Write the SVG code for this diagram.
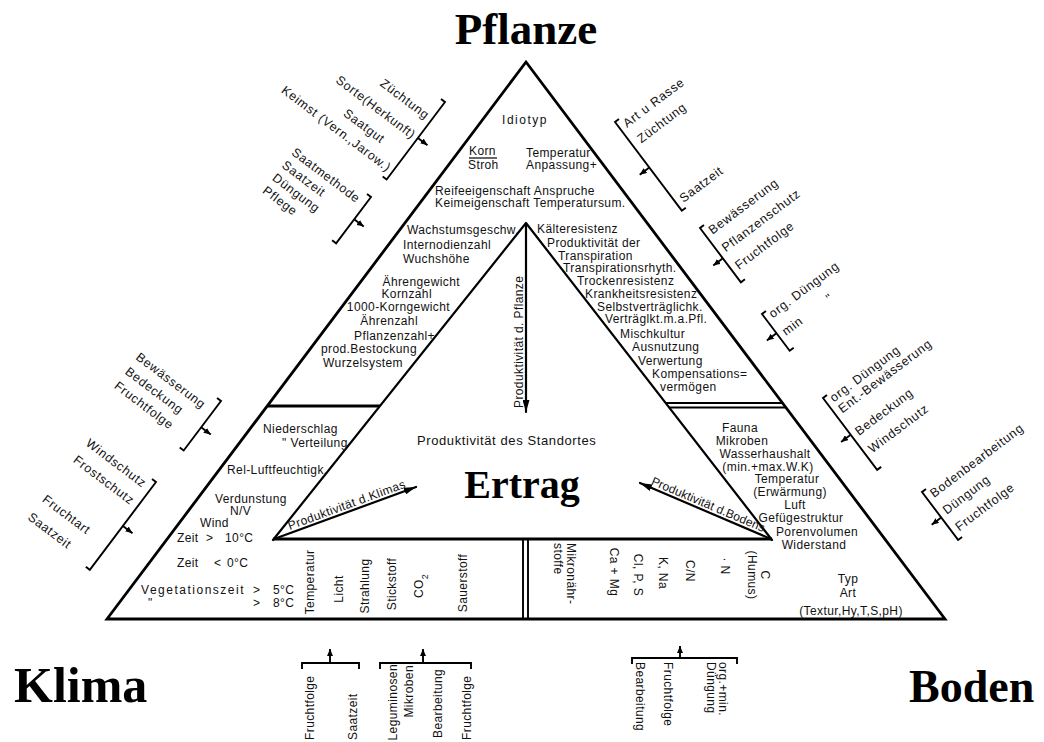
<svg xmlns="http://www.w3.org/2000/svg" width="1044" height="742" viewBox="0 0 1044 742">
<defs>
<style>
.ln{stroke:#000;stroke-width:2.2;fill:none;stroke-linecap:round;stroke-linejoin:round}
.th{stroke:#000;stroke-width:2.8;fill:none;stroke-linejoin:miter}
.br{stroke:#000;stroke-width:1.9;fill:none}
.t{font-family:"Liberation Sans",Arial,sans-serif;font-size:12px;letter-spacing:0.4px;fill:#111}
.r{font-family:"Liberation Sans",Arial,sans-serif;font-size:12.5px;letter-spacing:0.7px;fill:#111}
.big{font-family:"Liberation Serif","Times New Roman",serif;font-weight:bold;fill:#000}
.m{text-anchor:middle}
.e{text-anchor:end}
</style>
<marker id="ah" viewBox="0 0 12 7" refX="12" refY="3.5" markerWidth="12" markerHeight="7" markerUnits="userSpaceOnUse" orient="auto"><path d="M0,0 L12,3.5 L0,7 z" fill="#000"/></marker>
<marker id="sa" viewBox="0 0 7 6" refX="7" refY="3" markerWidth="7" markerHeight="6" markerUnits="userSpaceOnUse" orient="auto"><path d="M0,0 L7,3 L0,6 z" fill="#000"/></marker>
</defs>
<rect width="1044" height="742" fill="#fff"/>

<g id="connectors">
<path class="th" d="M526,62 L945,619 L107,619 Z"/>
<path class="ln" d="M273,540 L526,223 L772,540"/>
<line class="th" x1="273" y1="539" x2="772" y2="539"/>
<line class="th" x1="268" y1="406" x2="380" y2="406"/>
<line class="br" x1="666" y1="403" x2="782" y2="403"/>
<line class="br" x1="669" y1="407.5" x2="786" y2="407.5"/>
<line class="br" x1="523" y1="539" x2="523" y2="619"/>
<line class="br" x1="528" y1="539" x2="528" y2="619"/>
<line class="ln" x1="526" y1="225" x2="526" y2="412" marker-end="url(#ah)"/>
<line class="ln" x1="274" y1="539" x2="416" y2="487" marker-end="url(#ah)"/>
<line class="ln" x1="771" y1="539" x2="640" y2="483" marker-end="url(#ah)"/>
</g>

<g id="titles">
<text class="big m" x="526" y="44" font-size="45">Pflanze</text>
<text class="big" x="14" y="702" font-size="50">Klima</text>
<text class="big" x="909" y="702" font-size="46">Boden</text>
<text class="big m" x="522" y="498" font-size="40">Ertrag</text>
</g>

<g id="pflanze-top">
<text class="t m" x="525" y="124" style="letter-spacing:1.5px">Idiotyp</text>
<text class="t" x="469" y="155">Korn</text>
<line x1="469" y1="158" x2="497" y2="158" stroke="#000" stroke-width="1.2"/>
<text class="t" x="468" y="169">Stroh</text>
<text class="t" x="526" y="157">Temperatur</text>
<text class="t" x="526" y="169">Anpassung+</text>
<text class="t" x="435" y="195">Reifeeigenschaft Anspruche</text>
<text class="t" x="435" y="207">Keimeigenschaft Temperatursum.</text>
</g>

<g id="pflanze-left">
<text class="t" x="407" y="234">Wachstumsgeschw.</text>
<text class="t" x="403" y="249">Internodienzahl</text>
<text class="t" x="403" y="263">Wuchshöhe</text>
<text class="t e" x="460" y="286">Ährengewicht</text>
<text class="t e" x="432" y="298">Kornzahl</text>
<text class="t e" x="450" y="311">1000-Korngewicht</text>
<text class="t e" x="418" y="325">Ährenzahl</text>
<text class="t e" x="435" y="340">Pflanzenzahl+</text>
<text class="t e" x="417" y="353">prod.Bestockung</text>
<text class="t e" x="403" y="367">Wurzelsystem</text>
</g>

<g id="pflanze-right">
<text class="t" x="537" y="233">Kälteresistenz</text>
<text class="t" x="547" y="247">Produktivität der</text>
<text class="t" x="558" y="260">Transpiration</text>
<text class="t" x="563" y="272">Transpirationsrhyth.</text>
<text class="t" x="577" y="285">Trockenresistenz</text>
<text class="t" x="585" y="298">Krankheitsresistenz</text>
<text class="t" x="597" y="311">Selbstverträglichk.</text>
<text class="t" x="605" y="323">Verträglkt.m.a.Pfl.</text>
<text class="t" x="620" y="338">Mischkultur</text>
<text class="t" x="632" y="351">Ausnutzung</text>
<text class="t" x="638" y="365">Verwertung</text>
<text class="t" x="652" y="378">Kompensations=</text>
<text class="t" x="660" y="391">vermögen</text>
</g>

<g id="produktivitaet-labels">
<text class="t" transform="translate(523,408) rotate(-90)">Produktivität d. Pflanze</text>
<text class="t" x="417" y="445" style="font-size:13px;letter-spacing:0.6px">Produktivität des Standortes</text>
<text class="t" transform="translate(274,539) rotate(-20.1)" x="18" y="-3">Produktivität d.Klimas</text>
<text class="t" transform="translate(640,483) rotate(23.1)" x="10" y="-3" style="letter-spacing:0.1px">Produktivität d.Bodens</text>
</g>

<g id="klima-section">
<text class="t" x="263" y="433">Niederschlag</text>
<text class="t" x="282" y="447">" Verteilung</text>
<text class="t" x="227" y="474">Rel-Luftfeuchtigk.</text>
<text class="t" x="215" y="503">Verdunstung</text>
<text class="t" x="230" y="515">N/V</text>
<text class="t" x="200" y="527">Wind</text>
<text class="t" x="177" y="542">Zeit</text>
<text class="t" x="206" y="542">&gt;</text>
<text class="t" x="225" y="542">10°C</text>
<text class="t" x="177" y="567">Zeit</text>
<text class="t" x="214" y="567">&lt;</text>
<text class="t" x="227" y="567">0°C</text>
<text class="t e" x="245" y="594" style="letter-spacing:1.5px">Vegetationszeit</text>
<text class="t" x="253" y="594">&gt;</text>
<text class="t" x="273" y="594">5°C</text>
<text class="t" x="148" y="607">"</text>
<text class="t" x="253" y="607">&gt;</text>
<text class="t" x="273" y="607">8°C</text>
</g>

<g id="klima-factors">
<text class="t m" transform="translate(314,582) rotate(-90)">Temperatur</text>
<text class="t m" transform="translate(343,589) rotate(-90)">Licht</text>
<text class="t m" transform="translate(369,586) rotate(-90)">Strahlung</text>
<text class="t m" transform="translate(396,584) rotate(-90)">Stickstoff</text>
<text class="t m" transform="translate(423,586) rotate(-90)">CO<tspan baseline-shift="sub" font-size="9">2</tspan></text>
<text class="t m" transform="translate(467,583) rotate(-90)">Sauerstoff</text>
</g>

<g id="boden-section">
<text class="t m" x="740" y="432">Fauna</text>
<text class="t m" x="742" y="445">Mikroben</text>
<text class="t m" x="765" y="458">Wasserhaushalt</text>
<text class="t m" x="768" y="471">(min.+max.W.K)</text>
<text class="t m" x="787" y="483">Temperatur</text>
<text class="t m" x="790" y="496">(Erwärmung)</text>
<text class="t m" x="795" y="509">Luft</text>
<text class="t m" x="801" y="522">Gefügestruktur</text>
<text class="t m" x="817" y="536">Porenvolumen</text>
<text class="t m" x="814" y="549">Widerstand</text>
<text class="t m" x="848" y="583">Typ</text>
<text class="t m" x="848" y="597">Art</text>
<text class="t m" x="851" y="615">(Textur,Hy,T,S,pH)</text>
</g>

<g id="boden-factors">
<text class="t" transform="translate(567,543) rotate(90)">Mikronähr-</text>
<text class="t" transform="translate(554,543) rotate(90)">stoffe</text>
<text class="t m" transform="translate(610,572) rotate(90)">Ca + Mg</text>
<text class="t m" transform="translate(634,575) rotate(90)">Cl, P, S</text>
<text class="t m" transform="translate(659,573) rotate(90)">K, Na</text>
<text class="t m" transform="translate(686,571) rotate(90)">C/N</text>
<text class="t m" transform="translate(721,566) rotate(90)">·   N</text>
<text class="t m" transform="translate(761,575) rotate(90)">C</text>
<text class="t m" transform="translate(748,575) rotate(90)">(Humus)</text>
</g>

<g id="lb1" transform="translate(445,102) rotate(37)">
<path class="br" d="M-5,0 H0 V97 H-5"/>
<line class="br" x1="0" y1="45" x2="12" y2="45" marker-end="url(#sa)"/>
<text class="r e" x="-5" y="26">Züchtung</text>
<text class="r e" x="-4" y="50">Sorte(Herkunft)</text>
<text class="r e" x="-26" y="72">Saatgut</text>
<text class="r e" x="-4" y="91">Keimst (Vern.,Jarow.)</text>
</g>
<g id="lb2" transform="translate(371,197) rotate(37)">
<path class="br" d="M-5,0 H0 V58 H-5"/>
<line class="br" x1="0" y1="28" x2="12" y2="28" marker-end="url(#sa)"/>
<text class="r" x="-90" y="14">Saatmethode</text>
<text class="r" x="-90" y="30">Saatzeit</text>
<text class="r" x="-90" y="46">Düngung</text>
<text class="r" x="-90" y="62">Pflege</text>
</g>
<g id="lb3" transform="translate(221,401) rotate(37)">
<path class="br" d="M-5,0 H0 V62 H-5"/>
<line class="br" x1="0" y1="33" x2="12" y2="33" marker-end="url(#sa)"/>
<text class="r" x="-94" y="18">Bewässerung</text>
<text class="r" x="-94" y="36">Bedeckung</text>
<text class="r" x="-94" y="54">Fruchtfolge</text>
</g>
<g id="lb4" transform="translate(156,482) rotate(37)">
<path class="br" d="M-5,0 H0 V110 H-5"/>
<line class="br" x1="0" y1="55" x2="12" y2="55" marker-end="url(#sa)"/>
<text class="r" x="-79" y="13">Windschutz</text>
<text class="r" x="-79" y="34">Frostschutz</text>
<text class="r" x="-80" y="84">Fruchtart</text>
<text class="r" x="-81" y="107">Saatzeit</text>
</g>

<g id="rb1" transform="translate(615,122) rotate(-37)">
<path class="br" d="M5,0 H0 V111 H5"/>
<line class="br" x1="0" y1="57" x2="-12" y2="57" marker-end="url(#sa)"/>
<text class="r" x="6" y="12">Art u Rasse</text>
<text class="r" x="8" y="33">Züchtung</text>
<text class="r" x="6" y="106">Saatzeit</text>
</g>
<g id="rb2" transform="translate(700,228) rotate(-37)">
<path class="br" d="M5,0 H0 V68 H5"/>
<line class="br" x1="0" y1="38" x2="-12" y2="38" marker-end="url(#sa)"/>
<text class="r" x="6" y="13">Bewässerung</text>
<text class="r" x="6" y="35">Pflanzenschutz</text>
<text class="r" x="6" y="57">Fruchtfolge</text>
</g>
<g id="rb3" transform="translate(762,314) rotate(-37)">
<path class="br" d="M5,0 H0 V46 H5"/>
<line class="br" x1="0" y1="24" x2="-12" y2="24" marker-end="url(#sa)"/>
<text class="r" x="6" y="10">org. Düngung</text>
<text class="r" x="6" y="32">min</text>
<text class="r" x="61" y="32">"</text>
</g>
<g id="rb4" transform="translate(823,398) rotate(-37)">
<path class="br" d="M5,0 H0 V90 H5"/>
<line class="br" x1="0" y1="46" x2="-12" y2="46" marker-end="url(#sa)"/>
<text class="r" x="6" y="10">org. Düngung</text>
<text class="r" x="6" y="24">Ent.-Bewässerung</text>
<text class="r" x="6" y="52">Bedeckung</text>
<text class="r" x="6" y="74">Windschutz</text>
</g>
<g id="rb5" transform="translate(922,492) rotate(-37)">
<path class="br" d="M5,0 H0 V60 H5"/>
<line class="br" x1="0" y1="32" x2="-12" y2="32" marker-end="url(#sa)"/>
<text class="r" x="6" y="12">Bodenbearbeitung</text>
<text class="r" x="6" y="33">Düngung</text>
<text class="r" x="6" y="54">Fruchtfolge</text>
</g>

<g id="bb1">
<path class="br" d="M302,669 V663 H359 V669"/>
<line class="br" x1="330" y1="663" x2="330" y2="649" marker-end="url(#sa)"/>
<text class="t" transform="translate(314,740) rotate(-90)">Fruchtfolge</text>
<text class="t" transform="translate(357,740) rotate(-90)">Saatzeit</text>
</g>
<g id="bb2">
<path class="br" d="M380,669 V663 H471 V669"/>
<line class="br" x1="423" y1="663" x2="423" y2="649" marker-end="url(#sa)"/>
<text class="t e" transform="translate(397,664) rotate(-90)">Leguminosen</text>
<text class="t e" transform="translate(413,665) rotate(-90)">Mikroben</text>
<text class="t" transform="translate(442,738) rotate(-90)">Bearbeitung</text>
<text class="t" transform="translate(471,740) rotate(-90)">Fruchtfolge</text>
</g>
<g id="bb3">
<path class="br" d="M632,664 V658 H737 V664"/>
<line class="br" x1="680" y1="658" x2="680" y2="646" marker-end="url(#sa)"/>
<text class="t" transform="translate(636,662) rotate(90)">Bearbeitung</text>
<text class="t" transform="translate(664,662) rotate(90)">Fruchtfolge</text>
<text class="t" transform="translate(719,662) rotate(90)">org.+min.</text>
<text class="t" transform="translate(707,662) rotate(90)">Düngung</text>
</g>
</svg>
